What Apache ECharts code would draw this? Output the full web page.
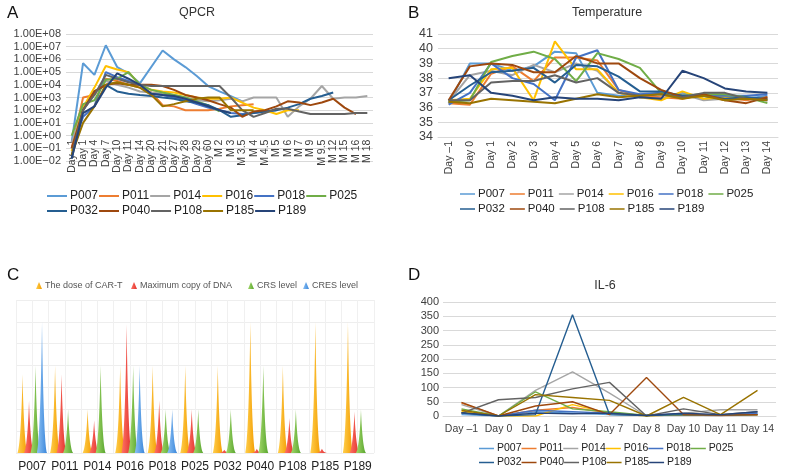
<!DOCTYPE html>
<html><head><meta charset="utf-8">
<script src="https://cdn.jsdelivr.net/npm/echarts@6/dist/echarts.min.js"></script>
<style>html,body{margin:0;padding:0;background:#fff}#c{width:787px;height:473px}</style>
</head><body><div id="c"></div>
<script>
// ---------- shared ----------
const patients = ['P007','P011','P014','P016','P018','P025','P032','P040','P108','P185','P189'];
const colors = ['#5B9BD5','#ED7D31','#A5A5A5','#FFC000','#4472C4','#70AD47','#255E91','#9E480E','#636363','#997300','#264478'];

// ---------- A: QPCR (copies) ----------
const qpcrCats = ['Day –1','Day 1','Day 4','Day 7','Day 10','Day 11','Day 14','Day 20','Day 21','Day 27','Day 28','Day 29','Day 60','M 2','M 3','M 3.5','M 4','M 4.5','M 5','M 6','M 7','M 9','M 9.5','M 12','M 15','M 16','M 18'];
const qpcrTicks = [1e-2,1e-1,1e0,1e1,1e2,1e3,1e4,1e5,1e6,1e7,1e8];
const qP007 = [0.3,5e5,6e4,1.3e7,2.5e5,8e4,1.3e4,null,5e6,1e6,2.5e5,5e4,8e3,3e3,1.3e3,5e2,null,null,null,null,null,null,null,null,null,null,null];
const qP011 = [0.1,1e3,1.6e3,3e4,2e4,1e4,6e3,2.5e3,250,200,100,100,100,130,200,250,300,null,null,null,null,null,null,null,null,null,null];
const qP014 = [0.3,100,2e3,2e4,1e4,6e3,3e3,2.5e3,2e3,1.6e3,1e3,600,500,600,800,500,1e3,1e3,1e3,30,200,800,8e3,800,1e3,1e3,1.3e3];
const qP016 = [0.06,160,6e3,3e5,1.6e5,1e5,1e4,4e3,3e3,2.5e3,1.6e3,1e3,800,800,1e3,400,160,100,50,100,100,null,null,null,null,null,null];
const qP018 = [0.1,30,200,1e5,4e4,2e4,1e4,2e3,1.6e3,1e3,600,300,160,100,60,50,60,80,100,null,null,null,null,null,null,null,null];
const qP025 = [1,300,600,2.5e4,3e4,1e5,1e4,4e3,2.5e3,1.6e3,1e3,500,250,80,null,null,null,null,null,null,null,null,null,null,null,null,null];
const qP032 = [0.016,100,3e3,1e4,3e3,2e3,1.6e3,1.3e3,1e3,800,500,400,250,100,30,40,60,80,100,160,300,800,1.3e3,2.5e3,null,null,null];
const qP040 = [0.1,100,3e3,1e4,1.3e4,1e4,1e4,1e4,8e3,4e3,1.6e3,1e3,600,300,160,30,80,100,200,500,400,250,400,800,160,50,null];
const qP108 = [0.03,100,1.6e3,6e4,3e4,1.6e4,1e4,8e3,8e3,8e3,8e3,8e3,8e3,8e3,1e3,100,30,60,130,130,80,50,50,50,50,60,60];
const qP185 = [0.03,10,200,1e4,1.6e4,1e4,6e3,1.6e3,200,300,500,800,1e3,1e3,100,100,100,null,null,null,null,null,null,null,null,null,null];
const qP189 = [0.016,60,200,6e3,8e4,3e4,1e4,2e3,1.6e3,1.3e3,800,400,200,100,60,null,null,null,null,null,null,null,null,null,null,null,null];
const qpcrData = [qP007,qP011,qP014,qP016,qP018,qP025,qP032,qP040,qP108,qP185,qP189];

// ---------- B: Temperature ----------
const tempCats = ['Day –1','Day 0','Day 1','Day 2','Day 3','Day 4','Day 5','Day 6','Day 7','Day 8','Day 9','Day 10','Day 11','Day 12','Day 13','Day 14'];
const tP007 = [36.3,39.0,39.0,38.5,38.8,39.8,39.7,37.0,36.8,36.8,36.6,37.0,36.6,36.8,36.6,36.8];
const tP011 = [36.3,36.2,38.3,38.8,37.8,39.4,39.4,39.2,37.2,36.8,36.7,36.6,36.9,36.7,36.5,36.7];
const tP014 = [36.4,38.2,38.5,38.2,38.9,38.4,39.0,38.5,37.0,36.7,36.6,36.9,36.5,36.6,36.6,36.5];
const tP016 = [36.5,36.6,38.6,38.7,36.5,40.5,38.6,38.6,37.0,36.7,36.5,37.1,36.6,36.7,36.6,36.6];
const tP018 = [36.2,37.0,39.0,38.0,37.6,36.5,39.4,39.9,37.2,36.9,37.0,36.7,36.8,36.8,36.8,36.9];
const tP025 = [36.4,36.5,39.1,39.5,39.8,39.3,37.8,39.7,39.3,38.7,37.0,36.8,36.9,36.9,36.7,36.3];
const tP032 = [36.5,37.5,38.4,38.5,38.7,37.7,38.9,38.8,38.1,37.1,37.1,36.8,36.8,36.6,36.7,36.6];
const tP040 = [36.5,38.8,39.0,38.9,38.4,38.4,39.5,39.0,39.0,38.0,37.2,36.7,36.9,36.5,36.3,36.7];
const tP108 = [36.5,36.5,37.7,37.8,37.8,38.2,37.7,38.0,37.0,36.8,36.9,36.7,37.0,37.0,36.6,36.5];
const tP185 = [36.4,36.3,36.6,36.5,36.4,36.3,36.6,36.9,36.7,36.8,36.9,36.6,36.8,36.5,36.6,36.5];
const tP189 = [38.0,38.2,37.0,36.8,36.5,36.7,36.6,36.6,36.5,36.7,36.6,38.5,38.0,37.3,37.1,37.0];
const tempData = [tP007,tP011,tP014,tP016,tP018,tP025,tP032,tP040,tP108,tP185,tP189];

// ---------- C: per-patient comparison ----------
const cNames = ['The dose of CAR-T','Maximum copy of DNA','CRS level','CRES level'];
const cDose = [3.6,4,2,4,4,4,4,6,4,6,6];
const cDNA  = [2.4,3.6,1.5,5.9,2.4,2.0,0.15,0.2,1.6,0.2,1.9];
const cCRS  = [4,2,4,4,2,2,2,4,2,0,2];
const cCRES = [6,0,0,4,2,0,0,0,0,0,0];
const cColors = [['#FFCF4D','#F39C00'],['#FF7467','#E0302A'],['#A3D86A','#58A52E'],['#8CC1F4','#3A86DA']];

// ---------- D: IL-6 ----------
const ilCats = ['Day –1','Day 0','Day 1','Day 4','Day 7','Day 8','Day 10','Day 11','Day 14'];
const ilTicks = [0,50,100,150,200,250,300,350,400];
const iP007 = [5,0,15,10,5,2,3,2,8];
const iP011 = [45,0,20,30,10,2,3,2,3];
const iP014 = [40,0,90,155,80,0,10,22,22];
const iP016 = [15,0,0,40,10,0,5,3,5];
const iP018 = [10,0,20,15,10,3,8,3,10];
const iP025 = [25,0,85,25,15,2,5,3,5];
const iP032 = [10,0,5,355,5,2,5,3,5];
const iP040 = [48,0,35,50,5,135,5,3,5];
const iP108 = [10,57,65,95,118,0,25,5,15];
const iP185 = [20,0,75,65,55,0,65,5,90];
const iP189 = [12,0,10,8,10,2,10,5,15];
const ilData = [iP007,iP011,iP014,iP016,iP018,iP025,iP032,iP040,iP108,iP185,iP189];

const FONT = 'Liberation Sans, Arial, sans-serif';
const TXT = '#404040';
const GRIDC = '#D9D9D9';

function logFmt(v){
  const e = Math.round(Math.log10(v));
  return '1.00E' + (e < 0 ? '−' : '+') + String(Math.abs(e)).padStart(2,'0');
}

const series = [];
patients.forEach((p,i)=>{
  series.push({type:'line', name:p, xAxisIndex:0, yAxisIndex:0, data:qpcrData[i], symbol:'none', connectNulls:true,
    lineStyle:{width:2, color:colors[i]}, itemStyle:{color:colors[i]}});
});
patients.forEach((p,i)=>{
  series.push({type:'line', name:p, xAxisIndex:1, yAxisIndex:1, data:tempData[i], symbol:'none',
    lineStyle:{width:2, color:colors[i]}, itemStyle:{color:colors[i]}});
});
patients.forEach((p,i)=>{
  series.push({type:'line', name:p, xAxisIndex:4, yAxisIndex:3, data:ilData[i], symbol:'none',
    lineStyle:{width:1.4, color:colors[i]}, itemStyle:{color:colors[i]}});
});
const spike = 'path://M0,10 L10,10 C7.2,9.2 5.6,4 5,0 C4.4,4 2.8,9.2 0,10 z';
[cDose,cDNA,cCRS,cCRES].forEach((d,i)=>{
  series.push({type:'pictorialBar', name:cNames[i], xAxisIndex:2, yAxisIndex:2, data:d,
    symbol:spike, symbolSize:['100%','100%'], barWidth:10, barGap:'-35%',
    itemStyle:{color:new echarts.graphic.LinearGradient(0,0,1,0,[{offset:0,color:cColors[i][0]},{offset:1,color:cColors[i][1]}])}});
});

function lineLegend(data, left, top, iw, fs, gap){
  return {data:data, left:left, top:top, orient:'horizontal', itemWidth:iw, itemHeight:10, itemGap:gap,
    icon:'path://M0,4 L20,4 L20,6 L0,6 z',
    textStyle:{fontSize:fs, color:'#222', fontFamily:FONT, padding:[0,0,0,-2]}};
}
function triLegend(name, left){
  return {data:[name], left:left, top:276, itemWidth:6, itemHeight:7, icon:'triangle', itemGap:0,
    textStyle:{fontSize:9, color:'#555', fontFamily:FONT, padding:[0,0,0,-2]}};
}

const option = {
  animation:false,
  textStyle:{fontFamily:FONT},
  title:[
    {text:'A', left:2, top:0, textStyle:{fontSize:17, fontWeight:'normal', color:'#111', fontFamily:FONT}},
    {text:'B', left:403, top:0, textStyle:{fontSize:17, fontWeight:'normal', color:'#111', fontFamily:FONT}},
    {text:'C', left:2, top:262, textStyle:{fontSize:17, fontWeight:'normal', color:'#111', fontFamily:FONT}},
    {text:'D', left:403, top:262, textStyle:{fontSize:17, fontWeight:'normal', color:'#111', fontFamily:FONT}},
    {text:'QPCR', left:192, textAlign:'center', top:1, textStyle:{fontSize:12.5, fontWeight:'normal', color:'#333', fontFamily:FONT}},
    {text:'Temperature', left:602, textAlign:'center', top:1, textStyle:{fontSize:12.5, fontWeight:'normal', color:'#333', fontFamily:FONT}},
    {text:'IL-6', left:600, textAlign:'center', top:274, textStyle:{fontSize:12.5, fontWeight:'normal', color:'#333', fontFamily:FONT}}
  ],
  legend:[
    lineLegend(patients.slice(0,6), 42, 185, 20, 12, 1),
    lineLegend(patients.slice(6), 42, 200, 20, 12, 1),
    lineLegend(patients.slice(0,6), 455, 183, 15, 11.5, 5),
    lineLegend(patients.slice(6), 455, 198, 15, 11.5, 5),
    triLegend(cNames[0], 31),
    triLegend(cNames[1], 126),
    triLegend(cNames[2], 243),
    triLegend(cNames[3], 298),
    lineLegend(patients.slice(0,6), 474, 438, 15, 10.5, 0),
    lineLegend(patients.slice(6), 474, 452, 15, 10.5, 0)
  ],
  grid:[
    {left:66, top:34, width:307, height:127},
    {left:438, top:34, width:340, height:103},
    {left:16, top:300, width:358, height:155},
    {left:443, top:302, width:333, height:114}
  ],
  xAxis:[
    {gridIndex:0, type:'category', data:qpcrCats, boundaryGap:true, offset:-25.4,
      axisLine:{show:false}, axisTick:{show:false},
      axisLabel:{rotate:90, interval:0, fontSize:10.5, color:TXT, margin:4}},
    {gridIndex:1, type:'category', data:tempCats, boundaryGap:true,
      axisLine:{lineStyle:{color:GRIDC}}, axisTick:{show:false},
      axisLabel:{rotate:90, interval:0, fontSize:10.5, color:TXT, margin:4}},
    {gridIndex:2, type:'category', data:patients, boundaryGap:true,
      axisLine:{show:false}, axisTick:{show:false}, splitLine:{show:false},
      axisLabel:{interval:0, fontSize:12, color:'#222', margin:8}},
    {gridIndex:2, type:'value', position:'top', min:0, max:22, interval:1,
      axisLine:{show:false}, axisTick:{show:false}, axisLabel:{show:false},
      splitLine:{show:true, lineStyle:{color:'#F0F0F0'}}},
    {gridIndex:3, type:'category', data:ilCats, boundaryGap:true,
      axisLine:{lineStyle:{color:GRIDC}}, axisTick:{show:false},
      axisLabel:{interval:0, fontSize:10.5, color:TXT, margin:8}}
  ],
  yAxis:[
    {gridIndex:0, type:'log', logBase:10, min:qpcrTicks[0], max:qpcrTicks[qpcrTicks.length-1], interval:1,
      axisLine:{show:false}, axisTick:{show:false},
      splitLine:{lineStyle:{color:GRIDC}},
      axisLabel:{formatter:logFmt, fontSize:11, color:TXT, margin:5}},
    {gridIndex:1, type:'value', min:34, max:41, interval:1,
      axisLine:{show:false}, axisTick:{show:false},
      splitLine:{lineStyle:{color:GRIDC}},
      axisLabel:{fontSize:12.5, color:TXT, margin:5}},
    {gridIndex:2, type:'value', min:0, max:7, interval:1,
      axisLine:{show:false}, axisTick:{show:false}, axisLabel:{show:false},
      splitLine:{lineStyle:{color:'#EEEEEE'}}},
    {gridIndex:3, type:'value', min:ilTicks[0], max:ilTicks[ilTicks.length-1], interval:50,
      axisLine:{show:false}, axisTick:{show:false},
      splitLine:{lineStyle:{color:GRIDC}},
      axisLabel:{fontSize:11, color:TXT, margin:4}}
  ],
  series:series
};
const chart = echarts.init(document.getElementById('c'), null, {renderer:'canvas'});
chart.setOption(option);
</script>
</body></html>
